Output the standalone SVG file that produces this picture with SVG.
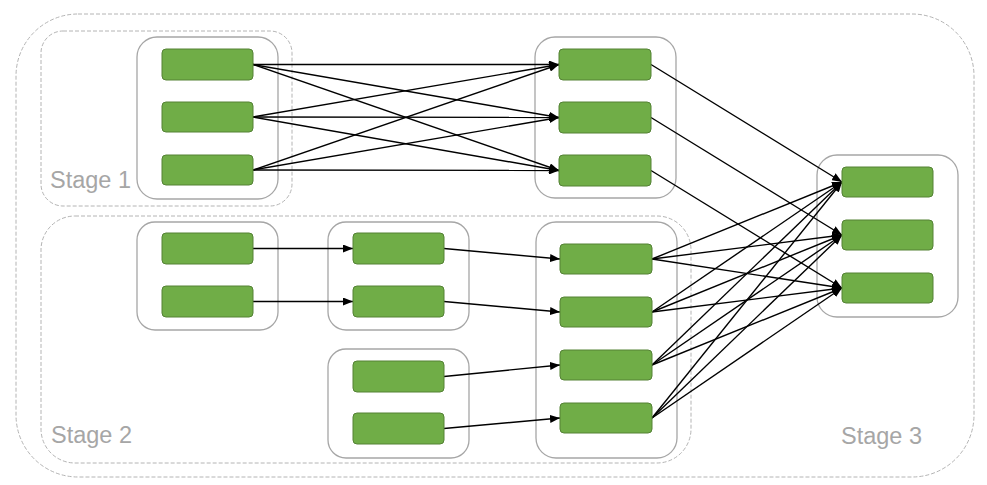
<svg xmlns="http://www.w3.org/2000/svg" width="987" height="485" viewBox="0 0 987 485">
  <style>
    .stage { fill: none; stroke: #b4b4b4; stroke-width: 1; stroke-dasharray: 4 2; }
    .group { fill: #ffffff; fill-opacity: 0; stroke: #a6a6a6; stroke-width: 1.3; }
    .task { fill: #70ad47; stroke: #548235; stroke-width: 1; }
    .label { font-family: "Liberation Sans", Arial, sans-serif; font-size: 23.5px; fill: #a6a6a6; }
    .edge { fill: none; stroke: #000000; stroke-width: 1.4; marker-end: url(#arrow); }
  </style>
  <defs>
    <marker id="arrow" viewBox="0 0 10 8" refX="10" refY="4" markerWidth="10" markerHeight="8" markerUnits="userSpaceOnUse" orient="auto">
      <path d="M0,0 L10,4 L0,8 z" fill="#000000"/>
    </marker>
  </defs>
  <rect width="987" height="485" fill="#ffffff"/>

  <!-- stage boundaries -->
  <g id="stages">
    <rect class="stage" x="16" y="14" width="958" height="463" rx="62" ry="62"/>
    <rect class="stage" x="41" y="31" width="251" height="175" rx="22" ry="22"/>
    <rect class="stage" x="41" y="216" width="650" height="247" rx="34" ry="34"/>
    <text class="label" x="50" y="188">Stage 1</text>
    <text class="label" x="51" y="443">Stage 2</text>
    <text class="label" x="841" y="444">Stage 3</text>
  </g>

  <!-- operator groups -->
  <g id="group-s1-source"><rect class="group" x="137" y="37" width="141" height="162" rx="20"/></g>
  <g id="group-s1-target"><rect class="group" x="535" y="37" width="141" height="161" rx="20"/></g>
  <g id="group-s2-source"><rect class="group" x="137" y="222" width="141" height="108" rx="18"/></g>
  <g id="group-s2-mid-a"><rect class="group" x="328" y="222" width="141" height="108" rx="18"/></g>
  <g id="group-s2-mid-b"><rect class="group" x="328" y="349" width="141" height="109" rx="18"/></g>
  <g id="group-s2-sink"><rect class="group" x="536" y="222" width="141" height="236" rx="20"/></g>
  <g id="group-s3"><rect class="group" x="817" y="155" width="141" height="162" rx="20"/></g>

  <!-- connectors -->
  <g id="connectors">
    <!-- stage 1: all-to-all -->
    <path class="edge" d="M253,64.5 L559,64.5"/>
    <path class="edge" d="M253,64.5 L559,117.5"/>
    <path class="edge" d="M253,64.5 L559,170.5"/>
    <path class="edge" d="M253,117 L559,64.5"/>
    <path class="edge" d="M253,117 L559,117.5"/>
    <path class="edge" d="M253,117 L559,170.5"/>
    <path class="edge" d="M253,170 L559,64.5"/>
    <path class="edge" d="M253,170 L559,117.5"/>
    <path class="edge" d="M253,170 L559,170.5"/>
    <!-- stage 1 to stage 3: one-to-one -->
    <path class="edge" d="M651,64.5 L842,182"/>
    <path class="edge" d="M651,117.5 L842,235"/>
    <path class="edge" d="M651,170.5 L842,288"/>
    <!-- stage 2 chains -->
    <path class="edge" d="M253,248.5 L353,248.5"/>
    <path class="edge" d="M253,301.5 L353,301.5"/>
    <path class="edge" d="M444,248.5 L560,259"/>
    <path class="edge" d="M444,301.5 L560,312"/>
    <path class="edge" d="M444,376.5 L560,365"/>
    <path class="edge" d="M444,428.5 L560,418"/>
    <!-- stage 2 to stage 3: all-to-all -->
    <path class="edge" d="M652,259 L842,182"/>
    <path class="edge" d="M652,259 L842,235"/>
    <path class="edge" d="M652,259 L842,288"/>
    <path class="edge" d="M652,312 L842,182"/>
    <path class="edge" d="M652,312 L842,235"/>
    <path class="edge" d="M652,312 L842,288"/>
    <path class="edge" d="M652,365 L842,182"/>
    <path class="edge" d="M652,365 L842,235"/>
    <path class="edge" d="M652,365 L842,288"/>
    <path class="edge" d="M652,418 L842,182"/>
    <path class="edge" d="M652,418 L842,235"/>
    <path class="edge" d="M652,418 L842,288"/>
  </g>

  <!-- tasks -->
  <g id="s1-src-1"><rect class="task" x="162" y="49" width="91" height="31" rx="4"/></g>
  <g id="s1-src-2"><rect class="task" x="162" y="102" width="91" height="30" rx="4"/></g>
  <g id="s1-src-3"><rect class="task" x="162" y="155" width="91" height="30" rx="4"/></g>
  <g id="s1-dst-1"><rect class="task" x="559" y="49" width="92" height="31" rx="4"/></g>
  <g id="s1-dst-2"><rect class="task" x="559" y="102" width="92" height="31" rx="4"/></g>
  <g id="s1-dst-3"><rect class="task" x="559" y="155" width="92" height="31" rx="4"/></g>
  <g id="s2-src-1"><rect class="task" x="162" y="233" width="91" height="31" rx="4"/></g>
  <g id="s2-src-2"><rect class="task" x="162" y="286" width="91" height="31" rx="4"/></g>
  <g id="s2-mid-a1"><rect class="task" x="353" y="233" width="91" height="31" rx="4"/></g>
  <g id="s2-mid-a2"><rect class="task" x="353" y="286" width="91" height="31" rx="4"/></g>
  <g id="s2-mid-b1"><rect class="task" x="353" y="361" width="91" height="31" rx="4"/></g>
  <g id="s2-mid-b2"><rect class="task" x="353" y="413" width="91" height="31" rx="4"/></g>
  <g id="s2-sink-1"><rect class="task" x="560" y="244" width="92" height="30" rx="4"/></g>
  <g id="s2-sink-2"><rect class="task" x="560" y="297" width="92" height="30" rx="4"/></g>
  <g id="s2-sink-3"><rect class="task" x="560" y="350" width="92" height="30" rx="4"/></g>
  <g id="s2-sink-4"><rect class="task" x="560" y="403" width="92" height="30" rx="4"/></g>
  <g id="s3-1"><rect class="task" x="842" y="167" width="91" height="30" rx="4"/></g>
  <g id="s3-2"><rect class="task" x="842" y="220" width="91" height="30" rx="4"/></g>
  <g id="s3-3"><rect class="task" x="842" y="273" width="91" height="30" rx="4"/></g>
</svg>
